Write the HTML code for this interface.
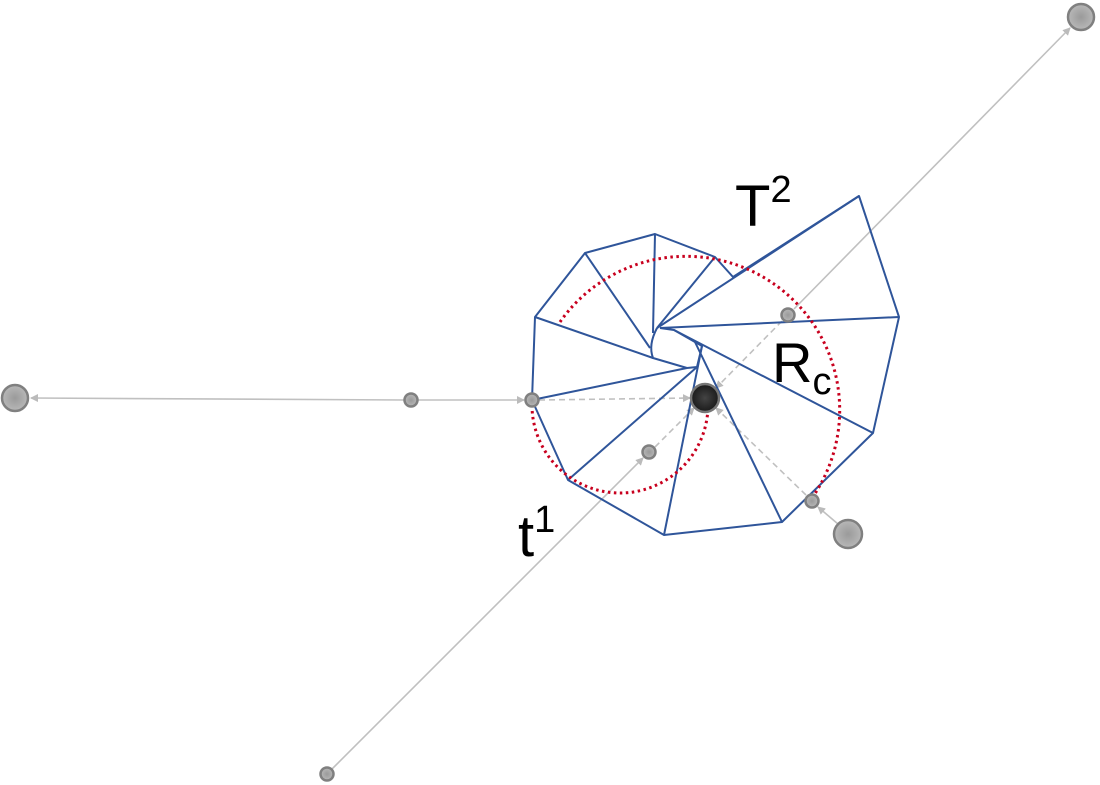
<!DOCTYPE html>
<html><head><meta charset="utf-8"><style>
html,body{margin:0;padding:0;background:#fff;}
svg{display:block;}
text{font-family:"Liberation Sans",sans-serif;fill:#000;}
</style></head><body>
<svg width="1100" height="785" viewBox="0 0 1100 785" xmlns="http://www.w3.org/2000/svg">
<defs>
<radialGradient id="g" cx="50%" cy="50%" r="50%"><stop offset="0" stop-color="#9a9a9a"/><stop offset="1" stop-color="#b8b8b8"/></radialGradient>
<radialGradient id="d" cx="50%" cy="50%" r="50%"><stop offset="0" stop-color="#444"/><stop offset="1" stop-color="#1a1a1a"/></radialGradient>
<marker id="a" markerWidth="8" markerHeight="8" refX="7" refY="4" orient="auto" markerUnits="userSpaceOnUse"><path d="M0,0 L8,4 L0,8 z" fill="#bbb"/></marker>
</defs>
<g stroke="#c0c0c0" stroke-width="1.6" fill="none">
<line x1="404" y1="400" x2="31" y2="398" marker-end="url(#a)"/>
<line x1="418" y1="400" x2="524" y2="400" marker-end="url(#a)"/>
<line x1="332" y1="769" x2="643" y2="458" marker-end="url(#a)"/>
<line x1="794" y1="309" x2="1070" y2="28" marker-end="url(#a)"/>
<line x1="838" y1="524" x2="818" y2="507" marker-end="url(#a)"/>
</g>
<g stroke="#c0c0c0" stroke-width="1.6" fill="none" stroke-dasharray="6,4">
<line x1="539" y1="400" x2="690" y2="398" marker-end="url(#a)"/>
<line x1="655" y1="447" x2="694" y2="408" marker-end="url(#a)"/>
<line x1="782" y1="321" x2="716" y2="388" marker-end="url(#a)"/>
<line x1="806" y1="495" x2="716" y2="408" marker-end="url(#a)"/>
</g>
<g stroke="#2f559a" stroke-width="2" fill="none" stroke-linejoin="round">
<polygon points="859,196 899,317 873,433 782,522 664,535 568,480 532,400 535,317 585,253 655,234 715,257 733,277"/>
<line x1="859" y1="196" x2="657" y2="328"/>
<line x1="899" y1="317" x2="660" y2="328"/>
<line x1="873" y1="433" x2="674" y2="330"/>
<line x1="782" y1="522" x2="695" y2="342"/>
<line x1="664" y1="535" x2="702" y2="346"/>
<line x1="568" y1="480" x2="697" y2="367"/>
<line x1="532" y1="400" x2="687" y2="368"/>
<line x1="535" y1="317" x2="653" y2="358"/>
<line x1="585" y1="253" x2="650" y2="348"/>
<line x1="655" y1="234" x2="653" y2="333"/>
<line x1="715" y1="257" x2="657" y2="328"/>
<path d="M657,328 Q648,345 653,358 L687,368 L697,367 L702,346 L695,342 L674,330 L660,328"/>
</g>
<g stroke="#c8001e" stroke-width="3" fill="none" stroke-dasharray="2.5,3.5">
<path d="M560,322 A152,152 0 0 1 812,498"/>
<path d="M532,405 A88,88 0 0 0 708,405"/>
</g>
<g stroke="#808080" stroke-width="2.5" fill="url(#g)">
<circle cx="1081" cy="17" r="13"/>
<circle cx="15" cy="398" r="13"/>
<circle cx="848" cy="534" r="14"/>
<circle cx="411" cy="400" r="6.5"/>
<circle cx="532" cy="400" r="6.5"/>
<circle cx="788" cy="315" r="6.5"/>
<circle cx="649" cy="452" r="6.5"/>
<circle cx="812" cy="501" r="6.5"/>
<circle cx="327" cy="774" r="6.5"/>
</g>
<circle cx="705" cy="398" r="14" fill="url(#d)" stroke="#777" stroke-width="2.5"/>
<text x="735" y="226" font-size="58">T<tspan font-size="38" dy="-24">2</tspan></text>
<text x="772" y="382" font-size="56">R<tspan font-size="38" dy="12">c</tspan></text>
<text x="518" y="556" font-size="58">t<tspan font-size="38" dy="-24">1</tspan></text>
</svg>
</body></html>
